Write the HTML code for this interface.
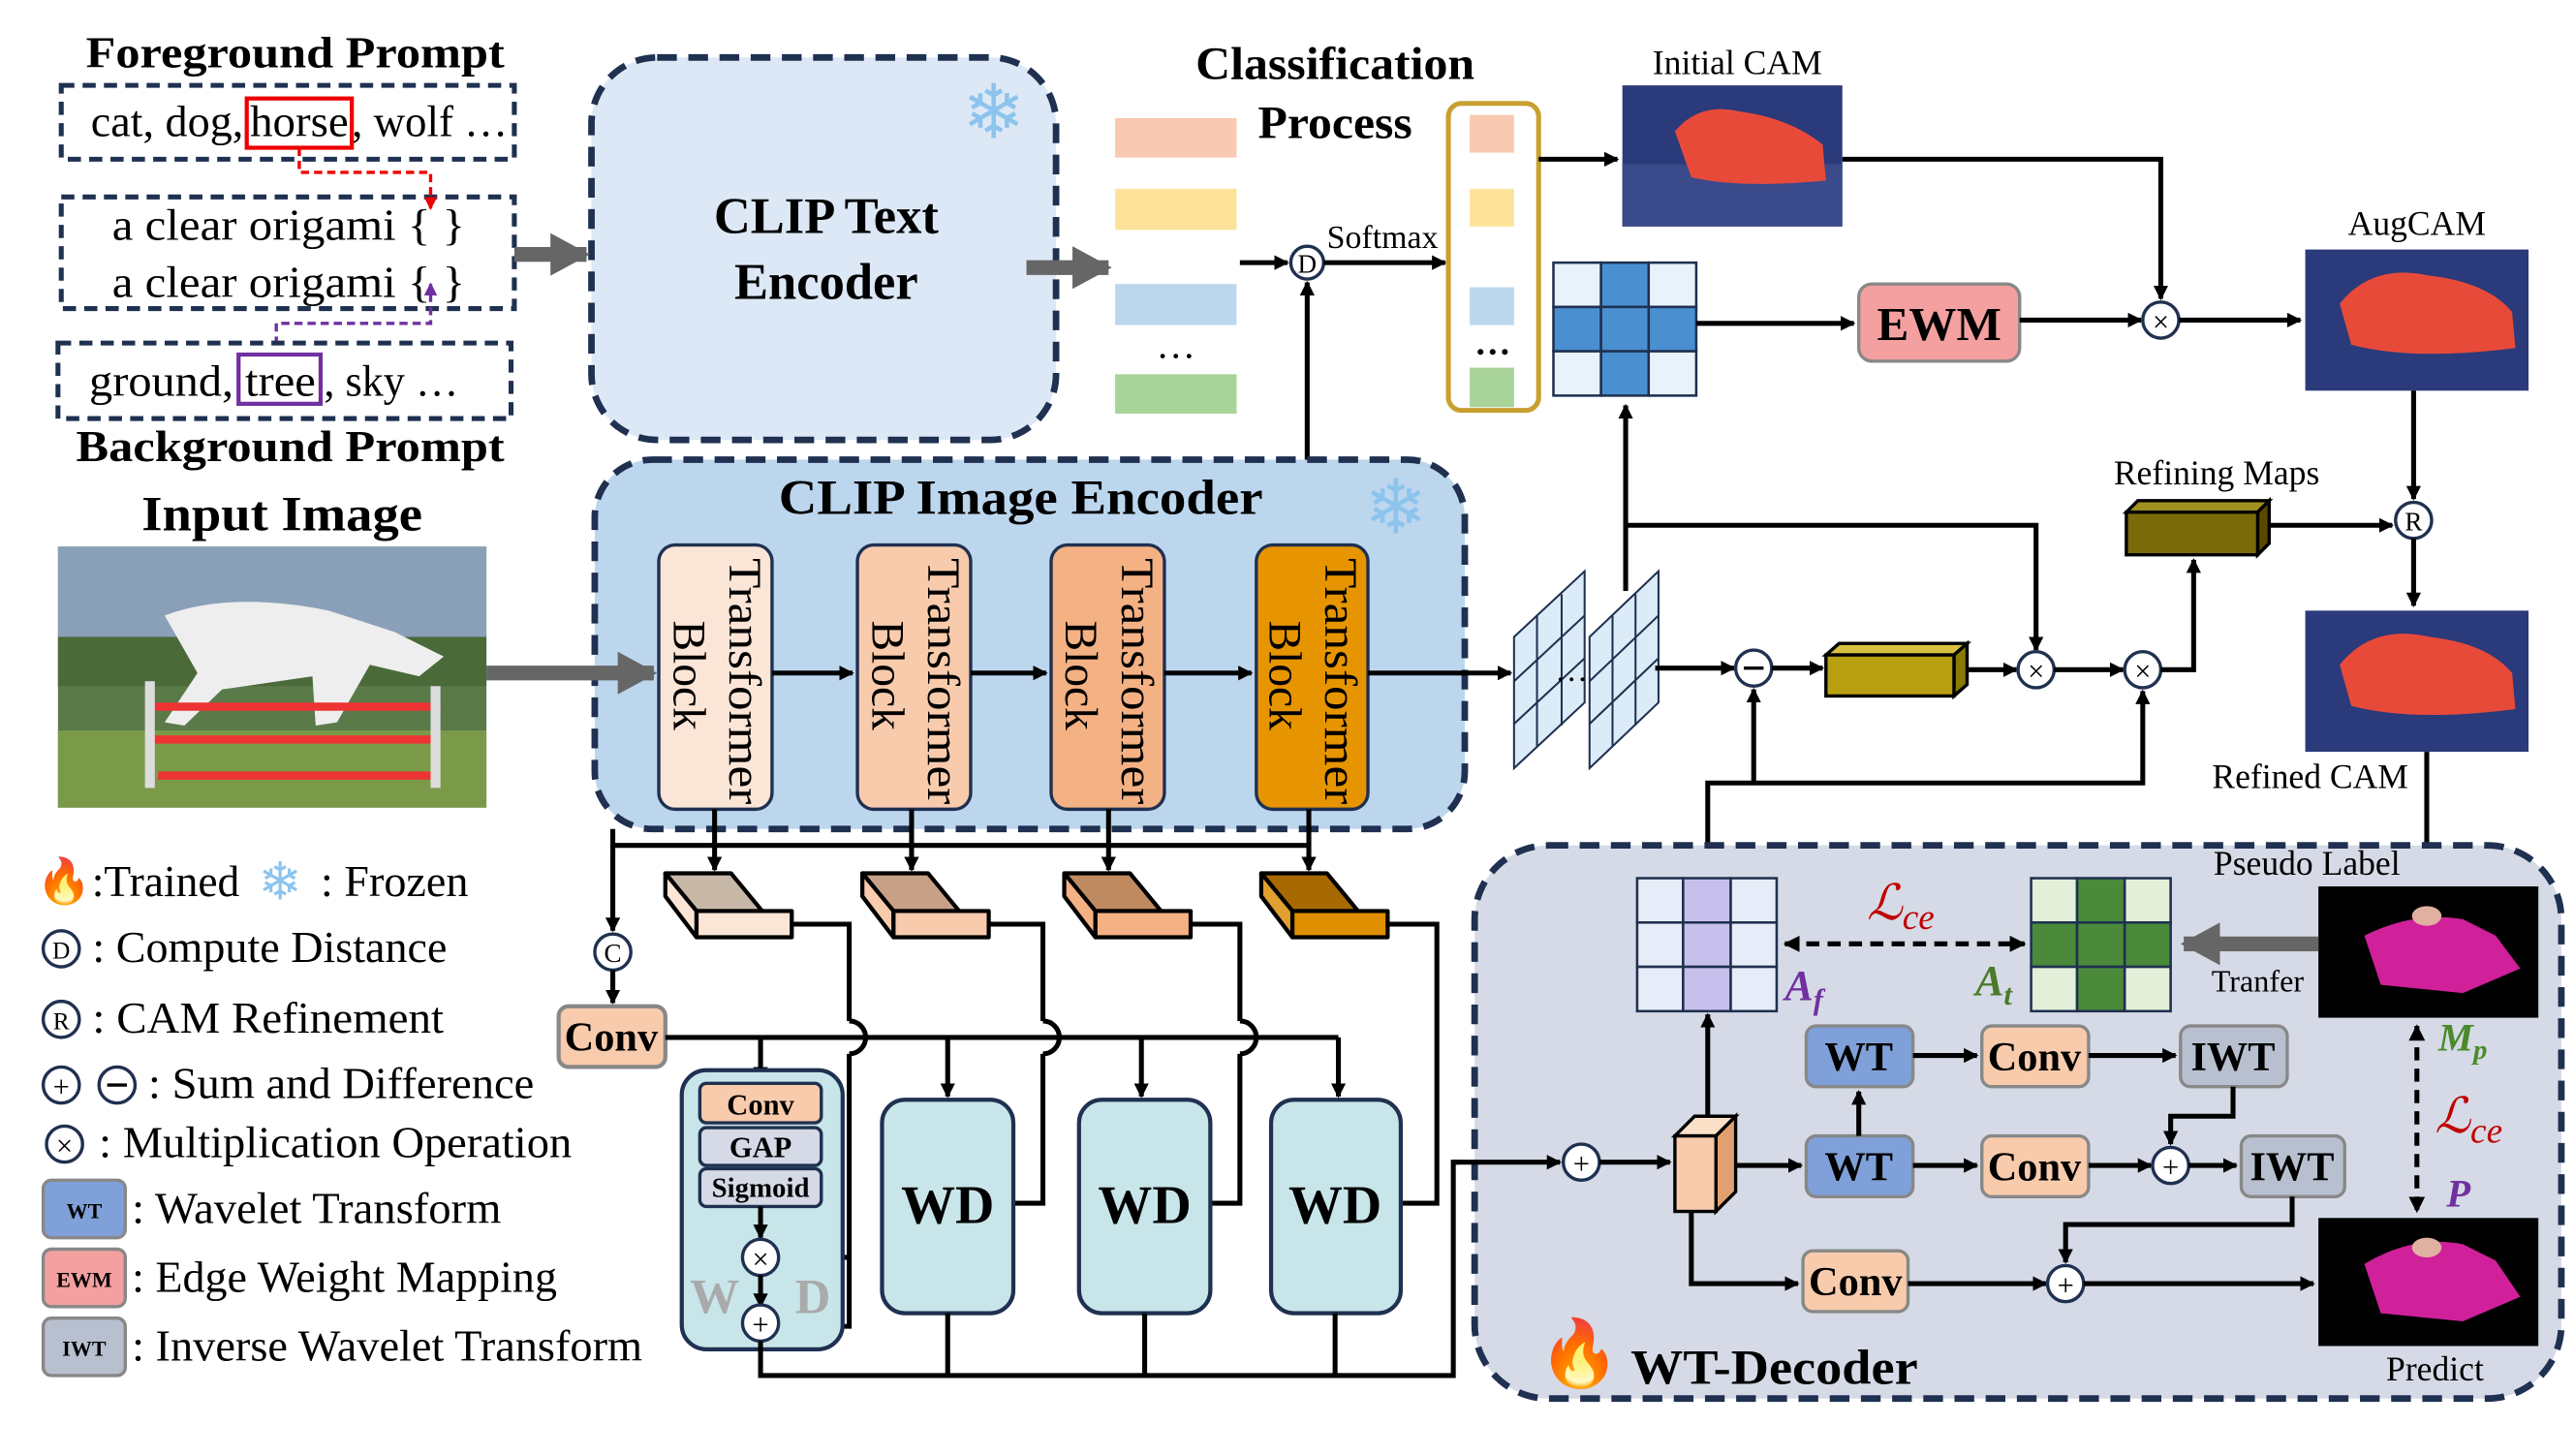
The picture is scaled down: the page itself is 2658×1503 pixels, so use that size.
<!DOCTYPE html>
<html><head><meta charset="utf-8"><style>
html,body{margin:0;padding:0;background:#fff;}
svg{display:block;}
text{font-family:"Liberation Serif",serif;fill:#000;}
.b{font-weight:bold;}
</style></head><body>
<svg width="2658" height="1503" viewBox="0 0 1568 887" xmlns="http://www.w3.org/2000/svg">
<defs>
<marker id="a" markerWidth="9" markerHeight="9" refX="8" refY="4.5" orient="auto" markerUnits="userSpaceOnUse"><path d="M0,0 L9,4.5 L0,9 z" fill="#000"/></marker>
<marker id="ar" markerWidth="8" markerHeight="8" refX="7" refY="4" orient="auto" markerUnits="userSpaceOnUse"><path d="M0,0 L8,4 L0,8 z" fill="#e00"/></marker>
<marker id="ap" markerWidth="8" markerHeight="8" refX="7" refY="4" orient="auto" markerUnits="userSpaceOnUse"><path d="M0,0 L8,4 L0,8 z" fill="#7030a0"/></marker>
<marker id="ag" markerWidth="24" markerHeight="26" refX="22" refY="13" orient="auto" markerUnits="userSpaceOnUse"><path d="M0,0 L24,13 L0,26 z" fill="#666"/></marker>
<marker id="as" markerWidth="10" markerHeight="10" refX="9" refY="5" orient="auto-start-reverse" markerUnits="userSpaceOnUse"><path d="M0,0 L10,5 L0,10 z" fill="#000"/></marker>
</defs>

<!-- Prompts -->
<text x="52" y="41" font-size="27" class="b" textLength="255" lengthAdjust="spacingAndGlyphs">Foreground Prompt</text>
<rect x="37" y="52" width="276" height="45" fill="none" stroke="#1f3050" stroke-width="3" stroke-dasharray="8,5"/>
<text x="55" y="83" font-size="27" textLength="93" lengthAdjust="spacingAndGlyphs">cat, dog,</text>
<text x="152" y="83" font-size="27" textLength="60" lengthAdjust="spacingAndGlyphs">horse</text>
<text x="214" y="83" font-size="27" textLength="95" lengthAdjust="spacingAndGlyphs">, wolf …</text>
<rect x="150" y="60" width="64" height="30" fill="none" stroke="#e00" stroke-width="2.5"/>
<rect x="37" y="120" width="276" height="68" fill="none" stroke="#1f3050" stroke-width="3" stroke-dasharray="8,5"/>
<text x="68" y="146" font-size="27" textLength="215" lengthAdjust="spacingAndGlyphs">a clear origami {   }</text>
<text x="68" y="181" font-size="27" textLength="215" lengthAdjust="spacingAndGlyphs">a clear origami {   }</text>
<polyline points="182,90 182,105 262,105 262,127" fill="none" stroke="#e00" stroke-width="2" stroke-dasharray="5,3" marker-end="url(#ar)"/>
<polyline points="168,210 168,197 262,197 262,173" fill="none" stroke="#7030a0" stroke-width="2" stroke-dasharray="5,3" marker-end="url(#ap)"/>
<rect x="35" y="209" width="276" height="46" fill="none" stroke="#1f3050" stroke-width="3" stroke-dasharray="8,5"/>
<text x="54" y="241" font-size="27" textLength="88" lengthAdjust="spacingAndGlyphs">ground,</text>
<text x="149" y="241" font-size="27" textLength="43" lengthAdjust="spacingAndGlyphs">tree</text>
<text x="197" y="241" font-size="27" textLength="82" lengthAdjust="spacingAndGlyphs">, sky …</text>
<rect x="145" y="216" width="50" height="30" fill="none" stroke="#7030a0" stroke-width="2.5"/>
<text x="46" y="281" font-size="27" class="b" textLength="261" lengthAdjust="spacingAndGlyphs">Background Prompt</text>

<!-- CLIP Text encoder -->
<rect x="360" y="35" width="283" height="233" rx="40" fill="#dce8f5" stroke="#1f3050" stroke-width="4" stroke-dasharray="12,7"/>
<line x1="313" y1="155" x2="357" y2="155" stroke="#666" stroke-width="9" marker-end="url(#ag)"/>
<text x="503" y="142" font-size="31" class="b" text-anchor="middle">CLIP Text</text>
<text x="503" y="182" font-size="31" class="b" text-anchor="middle">Encoder</text>
<text x="605" y="84" font-size="46" text-anchor="middle" style="fill:#8cc4ee">❄</text>
<line x1="625" y1="163" x2="675" y2="163" stroke="#666" stroke-width="9" marker-end="url(#ag)"/>

<rect x="679" y="72" width="74" height="24" fill="#f8c9b0"/>
<rect x="679" y="115" width="74" height="25" fill="#fde39a"/>
<rect x="679" y="173" width="74" height="25" fill="#bcd6ee"/>
<text x="716" y="218" font-size="24" text-anchor="middle">…</text>
<rect x="679" y="228" width="74" height="24" fill="#a8d49a"/>
<text x="728" y="48" font-size="28" class="b" textLength="170" lengthAdjust="spacingAndGlyphs">Classification</text>
<text x="766" y="84" font-size="28" class="b" textLength="94" lengthAdjust="spacingAndGlyphs">Process</text>
<line x1="755" y1="160" x2="784" y2="160" stroke="#000" stroke-width="3" marker-end="url(#a)"/>
<circle cx="796" cy="160" r="10" fill="#fff" stroke="#1f3050" stroke-width="2"/>
<text x="796" y="166" font-size="16" text-anchor="middle">D</text>
<line x1="806" y1="160" x2="880" y2="160" stroke="#000" stroke-width="3" marker-end="url(#a)"/>
<text x="808" y="151" font-size="20">Softmax</text>
<line x1="796" y1="330" x2="796" y2="172" stroke="#000" stroke-width="3" marker-end="url(#a)"/>

<rect x="882" y="63" width="55" height="187" rx="8" fill="#fff" stroke="#c8a030" stroke-width="3"/>
<rect x="895" y="70" width="27" height="23" fill="#f8c9b0"/>
<rect x="895" y="115" width="27" height="23" fill="#fde39a"/>
<rect x="895" y="175" width="27" height="23" fill="#bcd6ee"/>
<text x="909" y="216" font-size="22" text-anchor="middle" class="b">…</text>
<rect x="895" y="224" width="27" height="24" fill="#a8d49a"/>

<!-- Initial CAM -->
<text x="1058" y="45" font-size="21" text-anchor="middle">Initial CAM</text>
<line x1="937" y1="97" x2="985" y2="97" stroke="#000" stroke-width="3" marker-end="url(#a)"/>
<rect x="988" y="52" width="134" height="86" fill="#2a3a7a"/>
<rect x="988" y="100" width="134" height="38" fill="#3a4a8a"/>
<path d="M1020,80 Q1035,62 1060,68 Q1090,72 1110,88 L1112,110 Q1060,115 1030,108 Z" fill="#e84a3a"/>
<polyline points="1122,97 1316,97 1316,182" fill="none" stroke="#000" stroke-width="3" marker-end="url(#a)"/>

<!-- grid -->
<g stroke="#1f3050" stroke-width="1.5">
<rect x="946" y="160" width="29" height="27" fill="#e8f2fb"/><rect x="975" y="160" width="29" height="27" fill="#4a90d0"/><rect x="1004" y="160" width="29" height="27" fill="#e8f2fb"/>
<rect x="946" y="187" width="29" height="27" fill="#4a90d0"/><rect x="975" y="187" width="29" height="27" fill="#4a90d0"/><rect x="1004" y="187" width="29" height="27" fill="#4a90d0"/>
<rect x="946" y="214" width="29" height="27" fill="#e8f2fb"/><rect x="975" y="214" width="29" height="27" fill="#4a90d0"/><rect x="1004" y="214" width="29" height="27" fill="#e8f2fb"/>
</g>
<line x1="1033" y1="197" x2="1129" y2="197" stroke="#000" stroke-width="3" marker-end="url(#a)"/>
<rect x="1132" y="173" width="98" height="47" rx="8" fill="#f4a0a0" stroke="#888" stroke-width="2"/>
<text x="1181" y="207" font-size="29" class="b" text-anchor="middle">EWM</text>
<line x1="1230" y1="195" x2="1304" y2="195" stroke="#000" stroke-width="3" marker-end="url(#a)"/>
<circle cx="1316" cy="195" r="11" fill="#fff" stroke="#1f3050" stroke-width="2"/>
<text x="1316" y="202" font-size="18" text-anchor="middle">×</text>
<line x1="1327" y1="195" x2="1401" y2="195" stroke="#000" stroke-width="3" marker-end="url(#a)"/>

<!-- AugCAM -->
<text x="1472" y="143" font-size="21" text-anchor="middle">AugCAM</text>
<rect x="1404" y="152" width="136" height="86" fill="#2a3a7a"/>
<path d="M1425,185 Q1445,160 1480,168 Q1515,172 1530,190 L1532,212 Q1470,220 1432,210 Z" fill="#e84a3a"/>
<line x1="1470" y1="238" x2="1470" y2="304" stroke="#000" stroke-width="3" marker-end="url(#a)"/>
<circle cx="1470" cy="317" r="11" fill="#fff" stroke="#1f3050" stroke-width="2"/>
<text x="1470" y="323" font-size="16" text-anchor="middle">R</text>
<line x1="1470" y1="328" x2="1470" y2="369" stroke="#000" stroke-width="3" marker-end="url(#a)"/>
<rect x="1404" y="372" width="136" height="86" fill="#2a3a7a"/>
<path d="M1425,405 Q1445,380 1480,388 Q1515,392 1530,410 L1532,432 Q1470,440 1432,430 Z" fill="#e84a3a"/>
<text x="1407" y="480" font-size="21" text-anchor="middle">Refined CAM</text>
<line x1="1478" y1="458" x2="1478" y2="537" stroke="#000" stroke-width="3" marker-end="url(#a)"/>

<text x="1350" y="295" font-size="21" text-anchor="middle">Refining Maps</text>
<polygon points="1295,312 1302,305 1382,305 1375,312" fill="#a09020" stroke="#000" stroke-width="2"/>
<polygon points="1375,312 1382,305 1382,331 1375,338" fill="#5a4a00" stroke="#000" stroke-width="2"/>
<rect x="1295" y="312" width="80" height="26" fill="#7a6a0a" stroke="#000" stroke-width="2"/>
<line x1="1382" y1="320" x2="1457" y2="320" stroke="#000" stroke-width="3" marker-end="url(#a)"/>

<!-- Input image -->
<text x="86" y="323" font-size="30" class="b" textLength="171" lengthAdjust="spacingAndGlyphs">Input Image</text>
<rect x="35" y="333" width="261" height="159" fill="#5a7a4a"/>
<rect x="35" y="333" width="261" height="55" fill="#8aa0b8"/>
<rect x="35" y="388" width="261" height="30" fill="#4a6a3a"/>
<rect x="35" y="445" width="261" height="47" fill="#7a9a4a"/>
<path d="M100,375 Q140,360 200,372 L240,385 L270,400 L255,412 L225,405 L205,440 L192,442 L190,412 L135,420 L112,442 L100,440 L120,410 Z" fill="#eee"/>
<rect x="88" y="428" width="180" height="5" fill="#e33"/><rect x="92" y="448" width="175" height="5" fill="#e33"/><rect x="96" y="470" width="170" height="5" fill="#e33"/>
<rect x="88" y="415" width="6" height="65" fill="#ddd"/><rect x="262" y="418" width="6" height="62" fill="#ddd"/>

<!-- CLIP Image encoder -->
<rect x="362" y="280" width="530" height="225" rx="35" fill="#bcd6ee" stroke="#1f3050" stroke-width="4" stroke-dasharray="12,7"/>
<line x1="296" y1="410" x2="398" y2="410" stroke="#666" stroke-width="9" marker-end="url(#ag)"/>
<text x="474" y="313" font-size="30" class="b" textLength="295" lengthAdjust="spacingAndGlyphs">CLIP Image Encoder</text>
<text x="850" y="325" font-size="46" text-anchor="middle" style="fill:#8cc4ee">❄</text>
<g stroke="#1f3050" stroke-width="2">
<rect x="401" y="332" width="69" height="161" rx="10" fill="#fbe5d6"/>
<rect x="522" y="332" width="69" height="161" rx="10" fill="#f8cbad"/>
<rect x="640" y="332" width="69" height="161" rx="10" fill="#f4b183"/>
<rect x="765" y="332" width="68" height="161" rx="10" fill="#e69500"/>
</g>
<g font-size="28">
<text transform="translate(444,340) rotate(90)" textLength="150" lengthAdjust="spacingAndGlyphs">Transformer</text><text transform="translate(410,378) rotate(90)">Block</text>
<text transform="translate(565,340) rotate(90)" textLength="150" lengthAdjust="spacingAndGlyphs">Transformer</text><text transform="translate(531,378) rotate(90)">Block</text>
<text transform="translate(683,340) rotate(90)" textLength="150" lengthAdjust="spacingAndGlyphs">Transformer</text><text transform="translate(649,378) rotate(90)">Block</text>
<text transform="translate(807,340) rotate(90)" textLength="150" lengthAdjust="spacingAndGlyphs">Transformer</text><text transform="translate(773,378) rotate(90)">Block</text>
</g>
<line x1="470" y1="410" x2="519" y2="410" stroke="#000" stroke-width="3" marker-end="url(#a)"/>
<line x1="591" y1="410" x2="637" y2="410" stroke="#000" stroke-width="3" marker-end="url(#a)"/>
<line x1="709" y1="410" x2="762" y2="410" stroke="#000" stroke-width="3" marker-end="url(#a)"/>
<line x1="833" y1="410" x2="920" y2="410" stroke="#000" stroke-width="3" marker-end="url(#a)"/>

<!-- skewed grids -->
<g stroke="#1f3050" stroke-width="1.2" fill="#dcebf8">
<polygon points="922,388 965,348 965,428 922,468"/>
<line x1="936" y1="375" x2="936" y2="455"/><line x1="951" y1="362" x2="951" y2="442"/>
<line x1="922" y1="415" x2="965" y2="375"/><line x1="922" y1="441" x2="965" y2="401"/>
<polygon points="968,388 1010,348 1010,428 968,468"/>
<line x1="982" y1="375" x2="982" y2="455"/><line x1="996" y1="362" x2="996" y2="442"/>
<line x1="968" y1="415" x2="1010" y2="375"/><line x1="968" y1="441" x2="1010" y2="401"/>
</g>
<text x="957" y="415" font-size="20" text-anchor="middle">…</text>
<line x1="990" y1="360" x2="990" y2="247" stroke="#000" stroke-width="3" marker-end="url(#a)"/>
<polyline points="990,320 1240,320 1240,396" fill="none" stroke="#000" stroke-width="3" marker-end="url(#a)"/>
<line x1="1008" y1="407" x2="1056" y2="407" stroke="#000" stroke-width="3" marker-end="url(#a)"/>
<circle cx="1068" cy="407" r="11" fill="#fff" stroke="#1f3050" stroke-width="2"/>
<line x1="1062" y1="407" x2="1074" y2="407" stroke="#000" stroke-width="2"/>
<line x1="1079" y1="407" x2="1110" y2="407" stroke="#000" stroke-width="3" marker-end="url(#a)"/>
<polygon points="1112,399 1120,392 1198,392 1190,399" fill="#d8c040" stroke="#000" stroke-width="2"/>
<polygon points="1190,399 1198,392 1198,417 1190,424" fill="#8a7a00" stroke="#000" stroke-width="2"/>
<rect x="1112" y="399" width="78" height="25" fill="#b8a010" stroke="#000" stroke-width="2"/>
<line x1="1198" y1="408" x2="1228" y2="408" stroke="#000" stroke-width="3" marker-end="url(#a)"/>
<circle cx="1240" cy="408" r="11" fill="#fff" stroke="#1f3050" stroke-width="2"/>
<text x="1240" y="415" font-size="18" text-anchor="middle">×</text>
<line x1="1251" y1="408" x2="1293" y2="408" stroke="#000" stroke-width="3" marker-end="url(#a)"/>
<circle cx="1305" cy="408" r="11" fill="#fff" stroke="#1f3050" stroke-width="2"/>
<text x="1305" y="415" font-size="18" text-anchor="middle">×</text>
<polyline points="1316,408 1336,408 1336,341" fill="none" stroke="#000" stroke-width="3" marker-end="url(#a)"/>
<polyline points="1040,535 1040,477 1305,477 1305,421" fill="none" stroke="#000" stroke-width="3" marker-end="url(#a)"/>
<line x1="1068" y1="477" x2="1068" y2="420" stroke="#000" stroke-width="3" marker-end="url(#a)"/>

<!-- Legend -->
<g font-size="27">
<text x="22" y="546">🔥<tspan textLength="90" lengthAdjust="spacingAndGlyphs">:Trained</tspan></text>
<text x="157" y="548" font-size="32" style="fill:#8cc4ee">❄</text>
<text x="195" y="546" textLength="90" lengthAdjust="spacingAndGlyphs">: Frozen</text>
<circle cx="37" cy="578" r="11" fill="#fff" stroke="#1f3050" stroke-width="2"/><text x="37" y="584" font-size="15" text-anchor="middle">D</text>
<text x="56" y="586" textLength="216" lengthAdjust="spacingAndGlyphs">: Compute Distance</text>
<circle cx="37" cy="621" r="11" fill="#fff" stroke="#1f3050" stroke-width="2"/><text x="37" y="627" font-size="15" text-anchor="middle">R</text>
<text x="56" y="629" textLength="214" lengthAdjust="spacingAndGlyphs">: CAM Refinement</text>
<circle cx="37" cy="661" r="11" fill="#fff" stroke="#1f3050" stroke-width="2"/><text x="37" y="668" font-size="18" text-anchor="middle">+</text>
<circle cx="71" cy="661" r="11" fill="#fff" stroke="#1f3050" stroke-width="2"/><line x1="65" y1="661" x2="77" y2="661" stroke="#000" stroke-width="2"/>
<text x="90" y="669" textLength="235" lengthAdjust="spacingAndGlyphs">: Sum and Difference</text>
<circle cx="39" cy="697" r="11" fill="#fff" stroke="#1f3050" stroke-width="2"/><text x="39" y="704" font-size="18" text-anchor="middle">×</text>
<text x="60" y="705" textLength="288" lengthAdjust="spacingAndGlyphs">: Multiplication Operation</text>
<rect x="26" y="719" width="50" height="35" rx="5" fill="#7fa0d8" stroke="#888" stroke-width="2"/><text x="51" y="742" font-size="13" class="b" text-anchor="middle">WT</text>
<text x="80" y="745" textLength="225" lengthAdjust="spacingAndGlyphs">: Wavelet Transform</text>
<rect x="26" y="761" width="50" height="35" rx="5" fill="#f4a0a0" stroke="#888" stroke-width="2"/><text x="51" y="784" font-size="13" class="b" text-anchor="middle">EWM</text>
<text x="80" y="787" textLength="259" lengthAdjust="spacingAndGlyphs">: Edge Weight Mapping</text>
<rect x="26" y="803" width="50" height="35" rx="5" fill="#b8c0d0" stroke="#888" stroke-width="2"/><text x="51" y="826" font-size="13" class="b" text-anchor="middle">IWT</text>
<text x="80" y="829" textLength="311" lengthAdjust="spacingAndGlyphs">: Inverse Wavelet Transform</text>
</g>

<!-- Bottom features -->
<polyline points="373,505 373,515 797,515" fill="none" stroke="#000" stroke-width="3"/>
<line x1="373" y1="515" x2="373" y2="567" stroke="#000" stroke-width="3" marker-end="url(#a)"/>
<line x1="435" y1="493" x2="435" y2="530" stroke="#000" stroke-width="3" marker-end="url(#a)"/>
<line x1="555" y1="493" x2="555" y2="530" stroke="#000" stroke-width="3" marker-end="url(#a)"/>
<line x1="675" y1="493" x2="675" y2="530" stroke="#000" stroke-width="3" marker-end="url(#a)"/>
<line x1="797" y1="493" x2="797" y2="530" stroke="#000" stroke-width="3" marker-end="url(#a)"/>
<g stroke="#000" stroke-width="2.5" stroke-linejoin="round">
<polygon points="405,532 445,532 464,555 424,555" fill="#c8b8a8"/><polygon points="405,532 424,555 424,571 405,546" fill="#fbe5d6"/><rect x="424" y="555" width="58" height="16" fill="#fbe5d6"/>
<polygon points="525,532 565,532 584,555 544,555" fill="#c8a088"/><polygon points="525,532 544,555 544,571 525,546" fill="#f8cbad"/><rect x="544" y="555" width="58" height="16" fill="#f8cbad"/>
<polygon points="648,532 688,532 707,555 667,555" fill="#c08a60"/><polygon points="648,532 667,555 667,571 648,546" fill="#f4b183"/><rect x="667" y="555" width="58" height="16" fill="#f4b183"/>
<polygon points="768,532 808,532 827,555 787,555" fill="#a86a00"/><polygon points="768,532 787,555 787,571 768,546" fill="#e0a030"/><rect x="787" y="555" width="58" height="16" fill="#e08f00"/>
</g>
<circle cx="373" cy="580" r="11" fill="#fff" stroke="#1f3050" stroke-width="2"/><text x="373" y="586" font-size="16" text-anchor="middle">C</text>
<line x1="373" y1="591" x2="373" y2="611" stroke="#000" stroke-width="3" marker-end="url(#a)"/>
<rect x="340" y="613" width="65" height="37" rx="6" fill="#f8cbad" stroke="#888" stroke-width="2.5"/>
<text x="372" y="640" font-size="25" class="b" text-anchor="middle">Conv</text>

<!-- plate lines -->
<g fill="none" stroke="#000" stroke-width="3">
<polyline points="482,563 517,563 517,622"/><path d="M517,622 a10,10 0 0 1 0,20"/><polyline points="517,642 517,808 475,808"/><line x1="517" y1="766" x2="474" y2="766"/>
<polyline points="602,563 635,563 635,622"/><path d="M635,622 a10,10 0 0 1 0,20"/><polyline points="635,642 635,733 617,733"/>
<polyline points="725,563 755,563 755,622"/><path d="M755,622 a10,10 0 0 1 0,20"/><polyline points="755,642 755,733 737,733"/>
<polyline points="845,563 875,563 875,733 853,733"/>
<line x1="405" y1="632" x2="815" y2="632"/>
</g>
<line x1="463" y1="632" x2="463" y2="658" stroke="#000" stroke-width="3" marker-end="url(#a)"/>
<line x1="577" y1="632" x2="577" y2="668" stroke="#000" stroke-width="3" marker-end="url(#a)"/>
<line x1="695" y1="632" x2="695" y2="668" stroke="#000" stroke-width="3" marker-end="url(#a)"/>
<line x1="815" y1="632" x2="815" y2="668" stroke="#000" stroke-width="3" marker-end="url(#a)"/>

<rect x="415" y="652" width="98" height="170" rx="15" fill="#c8e6ea" stroke="#1f3050" stroke-width="2.5"/>
<text x="420" y="800" font-size="30" class="b" style="fill:#aaa">W</text><text x="484" y="800" font-size="30" class="b" style="fill:#aaa">D</text>
<rect x="426" y="660" width="74" height="24" rx="4" fill="#f8cbad" stroke="#1f3050" stroke-width="2"/><text x="463" y="679" font-size="18" class="b" text-anchor="middle">Conv</text>
<rect x="426" y="687" width="74" height="23" rx="4" fill="#d5dae6" stroke="#1f3050" stroke-width="2"/><text x="463" y="705" font-size="18" class="b" text-anchor="middle">GAP</text>
<rect x="426" y="712" width="74" height="23" rx="4" fill="#d5dae6" stroke="#1f3050" stroke-width="2"/><text x="463" y="729" font-size="17" class="b" text-anchor="middle">Sigmoid</text>
<line x1="463" y1="735" x2="463" y2="754" stroke="#000" stroke-width="3" marker-end="url(#a)"/>
<circle cx="463" cy="766" r="11" fill="#fff" stroke="#1f3050" stroke-width="2"/><text x="463" y="773" font-size="18" text-anchor="middle">×</text>
<line x1="463" y1="777" x2="463" y2="796" stroke="#000" stroke-width="3" marker-end="url(#a)"/>
<circle cx="463" cy="806" r="11" fill="#fff" stroke="#1f3050" stroke-width="2"/><text x="463" y="813" font-size="18" text-anchor="middle">+</text>

<g stroke="#1f3050" stroke-width="2.5" fill="#c8e6ea">
<rect x="537" y="670" width="80" height="130" rx="14"/>
<rect x="657" y="670" width="80" height="130" rx="14"/>
<rect x="774" y="670" width="79" height="130" rx="14"/>
</g>
<text x="577" y="745" font-size="33" class="b" text-anchor="middle">WD</text>
<text x="697" y="745" font-size="33" class="b" text-anchor="middle">WD</text>
<text x="813" y="745" font-size="33" class="b" text-anchor="middle">WD</text>
<g fill="none" stroke="#000" stroke-width="3">
<polyline points="463,817 463,838 885,838 885,708 888,708"/>
<line x1="577" y1="800" x2="577" y2="838"/><line x1="697" y1="800" x2="697" y2="838"/><line x1="813" y1="800" x2="813" y2="838"/>
</g>

<!-- WT Decoder -->
<rect x="898" y="515" width="662" height="337" rx="45" fill="#d5dae6" stroke="#1f3050" stroke-width="4" stroke-dasharray="12,7"/>
<line x1="885" y1="708" x2="950" y2="708" stroke="#000" stroke-width="3" marker-end="url(#a)"/>
<text x="962" y="838" font-size="40" text-anchor="middle">🔥</text>
<text x="993" y="843" font-size="30" class="b" textLength="175" lengthAdjust="spacingAndGlyphs">WT-Decoder</text>
<g stroke="#1f3050" stroke-width="1.5">
<rect x="997" y="535" width="28" height="27" fill="#e6edf8"/><rect x="1025" y="535" width="29" height="27" fill="#c8c0ec"/><rect x="1054" y="535" width="28" height="27" fill="#e6edf8"/>
<rect x="997" y="562" width="28" height="27" fill="#e6edf8"/><rect x="1025" y="562" width="29" height="27" fill="#c8c0ec"/><rect x="1054" y="562" width="28" height="27" fill="#e6edf8"/>
<rect x="997" y="589" width="28" height="27" fill="#e6edf8"/><rect x="1025" y="589" width="29" height="27" fill="#c8c0ec"/><rect x="1054" y="589" width="28" height="27" fill="#e6edf8"/>
<rect x="1237" y="535" width="28" height="27" fill="#e3efd8"/><rect x="1265" y="535" width="29" height="27" fill="#4a8a3a"/><rect x="1294" y="535" width="28" height="27" fill="#e3efd8"/>
<rect x="1237" y="562" width="28" height="27" fill="#4a8a3a"/><rect x="1265" y="562" width="29" height="27" fill="#4a8a3a"/><rect x="1294" y="562" width="28" height="27" fill="#4a8a3a"/>
<rect x="1237" y="589" width="28" height="27" fill="#e3efd8"/><rect x="1265" y="589" width="29" height="27" fill="#4a8a3a"/><rect x="1294" y="589" width="28" height="27" fill="#e3efd8"/>
</g>
<line x1="1087" y1="575" x2="1233" y2="575" stroke="#000" stroke-width="3" stroke-dasharray="8,5" marker-start="url(#as)" marker-end="url(#as)"/>
<text x="1137" y="560" font-size="30" font-style="italic" style="fill:#c00000">ℒ<tspan font-size="22" dy="6">ce</tspan></text>
<text x="1087" y="609" font-size="26" font-style="italic" class="b" style="fill:#7030a0">A<tspan font-size="18" dy="6">f</tspan></text>
<text x="1203" y="606" font-size="26" font-style="italic" class="b" style="fill:#4a7a2a">A<tspan font-size="18" dy="6">t</tspan></text>
<text x="1405" y="533" font-size="21" text-anchor="middle">Pseudo Label</text>
<rect x="1412" y="540" width="134" height="80" fill="#000"/>
<path d="M1440,570 Q1470,555 1500,560 L1520,570 L1535,590 L1500,605 L1450,600 Z" fill="#d0209a"/>
<ellipse cx="1478" cy="558" rx="9" ry="6" fill="#e0b0a0"/>
<line x1="1412" y1="575" x2="1330" y2="575" stroke="#666" stroke-width="9" marker-end="url(#ag)"/>
<text x="1375" y="604" font-size="19" text-anchor="middle">Tranfer</text>
<line x1="1472" y1="625" x2="1472" y2="738" stroke="#000" stroke-width="3" stroke-dasharray="8,5" marker-start="url(#as)" marker-end="url(#as)"/>
<text x="1485" y="640" font-size="24" font-style="italic" class="b" style="fill:#4a8a2a">M<tspan font-size="17" dy="5">p</tspan></text>
<text x="1483" y="690" font-size="30" font-style="italic" style="fill:#c00000">ℒ<tspan font-size="22" dy="6">ce</tspan></text>
<text x="1490" y="735" font-size="24" font-style="italic" class="b" style="fill:#7030a0">P</text>
<rect x="1412" y="742" width="134" height="78" fill="#000"/>
<path d="M1440,770 Q1470,752 1500,758 L1520,768 L1535,790 L1500,805 L1450,800 Z" fill="#d0209a"/>
<ellipse cx="1478" cy="760" rx="9" ry="6" fill="#e0b0a0"/>
<text x="1483" y="841" font-size="21" text-anchor="middle">Predict</text>

<circle cx="963" cy="708" r="11" fill="#fff" stroke="#1f3050" stroke-width="2"/><text x="963" y="715" font-size="18" text-anchor="middle">+</text>
<line x1="974" y1="708" x2="1017" y2="708" stroke="#000" stroke-width="3" marker-end="url(#a)"/>
<polygon points="1020,692 1032,680 1057,680 1045,692" fill="#fbe0c8" stroke="#000" stroke-width="2"/>
<polygon points="1045,692 1057,680 1057,726 1045,738" fill="#e0a070" stroke="#000" stroke-width="2"/>
<rect x="1020" y="692" width="25" height="46" fill="#f8cbad" stroke="#000" stroke-width="2"/>
<line x1="1040" y1="680" x2="1040" y2="618" stroke="#000" stroke-width="3" marker-end="url(#a)"/>
<line x1="1057" y1="710" x2="1097" y2="710" stroke="#000" stroke-width="3" marker-end="url(#a)"/>
<polyline points="1030,738 1030,782 1095,782" fill="none" stroke="#000" stroke-width="3" marker-end="url(#a)"/>
<g stroke="#888" stroke-width="2">
<rect x="1100" y="625" width="65" height="37" rx="6" fill="#7fa0d8"/>
<rect x="1100" y="692" width="65" height="37" rx="6" fill="#7fa0d8"/>
<rect x="1207" y="625" width="65" height="37" rx="6" fill="#f8cbad"/>
<rect x="1207" y="692" width="65" height="37" rx="6" fill="#f8cbad"/>
<rect x="1328" y="625" width="65" height="37" rx="6" fill="#b8c0d0"/>
<rect x="1365" y="692" width="63" height="37" rx="6" fill="#b8c0d0"/>
<rect x="1098" y="762" width="64" height="37" rx="6" fill="#f8cbad"/>
</g>
<g font-size="25" class="b" text-anchor="middle">
<text x="1132" y="652">WT</text><text x="1132" y="719">WT</text>
<text x="1239" y="652">Conv</text><text x="1239" y="719">Conv</text>
<text x="1360" y="652">IWT</text><text x="1396" y="719">IWT</text>
<text x="1130" y="789">Conv</text>
</g>
<line x1="1132" y1="692" x2="1132" y2="665" stroke="#000" stroke-width="3" marker-end="url(#a)"/>
<line x1="1165" y1="643" x2="1204" y2="643" stroke="#000" stroke-width="3" marker-end="url(#a)"/>
<line x1="1272" y1="643" x2="1325" y2="643" stroke="#000" stroke-width="3" marker-end="url(#a)"/>
<line x1="1165" y1="710" x2="1204" y2="710" stroke="#000" stroke-width="3" marker-end="url(#a)"/>
<line x1="1272" y1="710" x2="1310" y2="710" stroke="#000" stroke-width="3" marker-end="url(#a)"/>
<circle cx="1322" cy="710" r="11" fill="#fff" stroke="#1f3050" stroke-width="2"/><text x="1322" y="717" font-size="18" text-anchor="middle">+</text>
<line x1="1333" y1="710" x2="1362" y2="710" stroke="#000" stroke-width="3" marker-end="url(#a)"/>
<polyline points="1360,662 1360,680 1322,680 1322,697" fill="none" stroke="#000" stroke-width="3" marker-end="url(#a)"/>
<line x1="1162" y1="782" x2="1246" y2="782" stroke="#000" stroke-width="3" marker-end="url(#a)"/>
<circle cx="1258" cy="782" r="11" fill="#fff" stroke="#1f3050" stroke-width="2"/><text x="1258" y="789" font-size="18" text-anchor="middle">+</text>
<polyline points="1396,729 1396,746 1258,746 1258,769" fill="none" stroke="#000" stroke-width="3" marker-end="url(#a)"/>
<line x1="1269" y1="782" x2="1409" y2="782" stroke="#000" stroke-width="3" marker-end="url(#a)"/>
</svg>
</body></html>
